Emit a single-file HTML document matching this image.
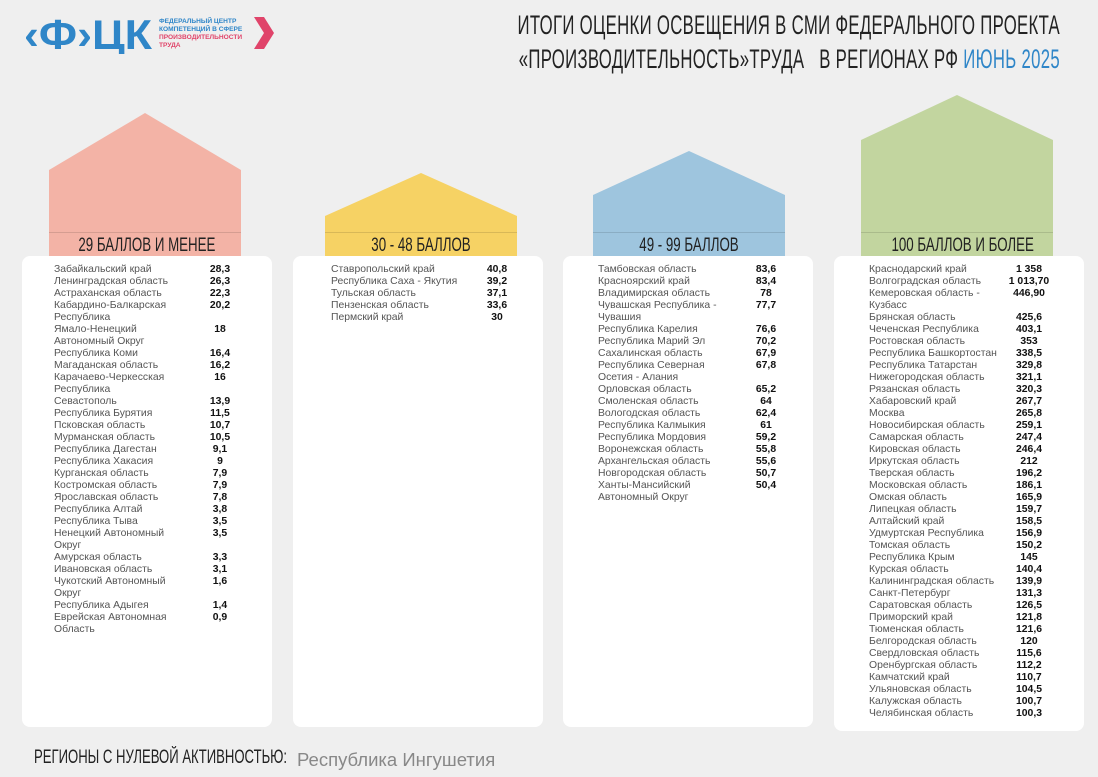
<!DOCTYPE html>
<html><head><meta charset="utf-8">
<style>
html,body{margin:0;padding:0;}
body{width:1098px;height:777px;background:#efefef;position:relative;overflow:hidden;font-family:"Liberation Sans",sans-serif;}
.abs{position:absolute;}
.title{position:absolute;right:38px;font-size:27px;color:#222;white-space:nowrap;transform:scaleX(0.62);transform-origin:right center;letter-spacing:0.5px;}
.card{position:absolute;background:#fff;border-radius:8px;}
.band{position:absolute;height:24px;text-align:center;line-height:26px;font-size:19px;color:#222;border-top:1px solid rgba(0,0,0,0.12);}
.band span{display:inline-block;transform:scaleX(0.7);white-space:nowrap;}
.row{position:absolute;font-size:10.4px;line-height:12px;}
.nm{position:absolute;left:0;top:0;color:#555;}
.vl{position:absolute;top:0;width:70px;text-align:center;font-weight:bold;color:#111;}
</style></head><body>
<svg class="abs" style="left:22px;top:14px" width="260" height="40">
 <text x="2" y="35" font-family="Liberation Sans" font-weight="bold" font-size="42" fill="#2f86c8" textLength="128" lengthAdjust="spacingAndGlyphs">‹Ф›ЦК</text>
 <text x="137" y="9" font-size="6.6" font-weight="bold" fill="#2f86c8" font-family="Liberation Sans">ФЕДЕРАЛЬНЫЙ ЦЕНТР</text>
 <text x="137" y="17" font-size="6.6" font-weight="bold" fill="#2f86c8" font-family="Liberation Sans">КОМПЕТЕНЦИЙ В СФЕРЕ</text>
 <text x="137" y="25" font-size="6.6" font-weight="bold" fill="#e0446a" font-family="Liberation Sans">ПРОИЗВОДИТЕЛЬНОСТИ</text>
 <text x="137" y="33" font-size="6.6" font-weight="bold" fill="#e0446a" font-family="Liberation Sans">ТРУДА</text>
 <polygon points="232,3 242,3 252,19 242,35 232,35 242,19" fill="#e0446a"/>
</svg>
<div class="title" style="top:10px">ИТОГИ ОЦЕНКИ ОСВЕЩЕНИЯ В СМИ ФЕДЕРАЛЬНОГО ПРОЕКТА</div>
<div class="title" style="top:44px">«ПРОИЗВОДИТЕЛЬНОСТЬ»ТРУДА &nbsp; В РЕГИОНАХ РФ <span style="color:#2f86c8">ИЮНЬ 2025</span></div>

<svg class="abs" style="left:0;top:0" width="1098" height="260">
 <polygon points="49,170 145,113 241,170 241,256 49,256" fill="#f3b3a6"/>
 <polygon points="325,216 421,173 517,216 517,256 325,256" fill="#f6d264"/>
 <polygon points="593,195 689,151 785,195 785,256 593,256" fill="#9ec5de"/>
 <polygon points="861,140 957,95 1053,140 1053,256 861,256" fill="#c2d59f"/>
</svg>
<div class="band" style="left:49px;top:232px;width:192px"><span>29 БАЛЛОВ И МЕНЕЕ</span></div>
<div class="band" style="left:325px;top:232px;width:192px"><span>30 - 48 БАЛЛОВ</span></div>
<div class="band" style="left:593px;top:232px;width:192px"><span>49 - 99 БАЛЛОВ</span></div>
<div class="band" style="left:861px;top:232px;width:192px"><span>100 БАЛЛОВ И БОЛЕЕ</span></div>

<div class="card" style="left:22px;top:256px;width:250px;height:471px"></div>
<div class="card" style="left:293px;top:256px;width:250px;height:471px"></div>
<div class="card" style="left:563px;top:256px;width:250px;height:471px"></div>
<div class="card" style="left:834px;top:256px;width:250px;height:475px"></div>

<div class="abs" style="left:34px;top:747px;font-size:19px;color:#222;white-space:nowrap;transform:scaleX(0.69);transform-origin:left center">РЕГИОНЫ С НУЛЕВОЙ АКТИВНОСТЬЮ:</div>
<div class="abs" style="left:297px;top:749px;font-size:18.5px;color:#888;white-space:nowrap">Республика Ингушетия</div>

<script>
const names1=["Забайкальский край","Ленинградская область","Астраханская область","Кабардино-Балкарская Республика","Ямало-Ненецкий Автономный Округ","Республика Коми","Магаданская область","Карачаево-Черкесская Республика","Севастополь","Республика Бурятия","Псковская область","Мурманская область","Республика Дагестан","Республика Хакасия","Курганская область","Костромская область","Ярославская область","Республика Алтай","Республика Тыва","Ненецкий Автономный Округ","Амурская область","Ивановская область","Чукотский Автономный Округ","Республика Адыгея","Еврейская Автономная Область"];
const values1=["28,3","26,3","22,3","20,2","18","16,4","16,2","16","13,9","11,5","10,7","10,5","9,1","9","7,9","7,9","7,8","3,8","3,5","3,5","3,3","3,1","1,6","1,4","0,9"];
const lines1=[1,1,1,2,2,1,1,2,1,1,1,1,1,1,1,1,1,1,1,2,1,1,2,1,2];
const names2=["Ставропольский край","Республика Саха - Якутия","Тульская область","Пензенская область","Пермский край"];
const values2=["40,8","39,2","37,1","33,6","30"];
const lines2=[1,1,1,1,1];
const names3=["Тамбовская область","Красноярский край","Владимирская область","Чувашская Республика - Чувашия","Республика Карелия","Республика Марий Эл","Сахалинская область","Республика Северная Осетия - Алания","Орловская область","Смоленская область","Вологодская область","Республика Калмыкия","Республика Мордовия","Воронежская область","Архангельская область","Новгородская область","Ханты-Мансийский Автономный Округ"];
const values3=["83,6","83,4","78","77,7","76,6","70,2","67,9","67,8","65,2","64","62,4","61","59,2","55,8","55,6","50,7","50,4"];
const lines3=[1,1,1,2,1,1,1,2,1,1,1,1,1,1,1,1,2];
const names4=["Краснодарский край","Волгоградская область","Кемеровская область - Кузбасс","Брянская область","Чеченская Республика","Ростовская область","Республика Башкортостан","Республика Татарстан","Нижегородская область","Рязанская область","Хабаровский край","Москва","Новосибирская область","Самарская область","Кировская область","Иркутская область","Тверская область","Московская область","Омская область","Липецкая область","Алтайский край","Удмуртская Республика","Томская область","Республика Крым","Курская область","Калининградская область","Санкт-Петербург","Саратовская область","Приморский край","Тюменская область","Белгородская область","Свердловская область","Оренбургская область","Камчатский край","Ульяновская область","Калужская область","Челябинская область"];
const values4=["1 358","1 013,70","446,90","425,6","403,1","353","338,5","329,8","321,1","320,3","267,7","265,8","259,1","247,4","246,4","212","196,2","186,1","165,9","159,7","158,5","156,9","150,2","145","140,4","139,9","131,3","126,5","121,8","121,6","120","115,6","112,2","110,7","104,5","100,7","100,3"];
const lines4=[1,1,2,1,1,1,1,1,1,1,1,1,1,1,1,1,1,1,1,1,1,1,1,1,1,1,1,1,1,1,1,1,1,1,1,1,1];
function drawList(names,values,lines,x,top,nameW,valC,group){
  let y=top;
  for(let i=0;i<names.length;i++){
    const r=document.createElement('div');
    r.className='row';
    
    
    r.style.left=x+'px';r.style.top=y+'px';
    const n=document.createElement('div');
    n.className='nm';
    
    
    n.style.width=nameW+'px';
    n.textContent=names[i];
    const v=document.createElement('div');
    v.className='vl';
    
    
    v.style.left=(valC-x-35)+'px';
    v.textContent=values[i];
    r.appendChild(n);r.appendChild(v);
    document.body.appendChild(r);
    y+=12*lines[i];
  }
}
drawList(names1,values1,lines1,54,264,122,220,1);
drawList(names2,values2,lines2,331,264,150,497,2);
drawList(names3,values3,lines3,598,264,122,766,3);
drawList(names4,values4,lines4,869,264,128,1029,4);
</script>
</body></html>
